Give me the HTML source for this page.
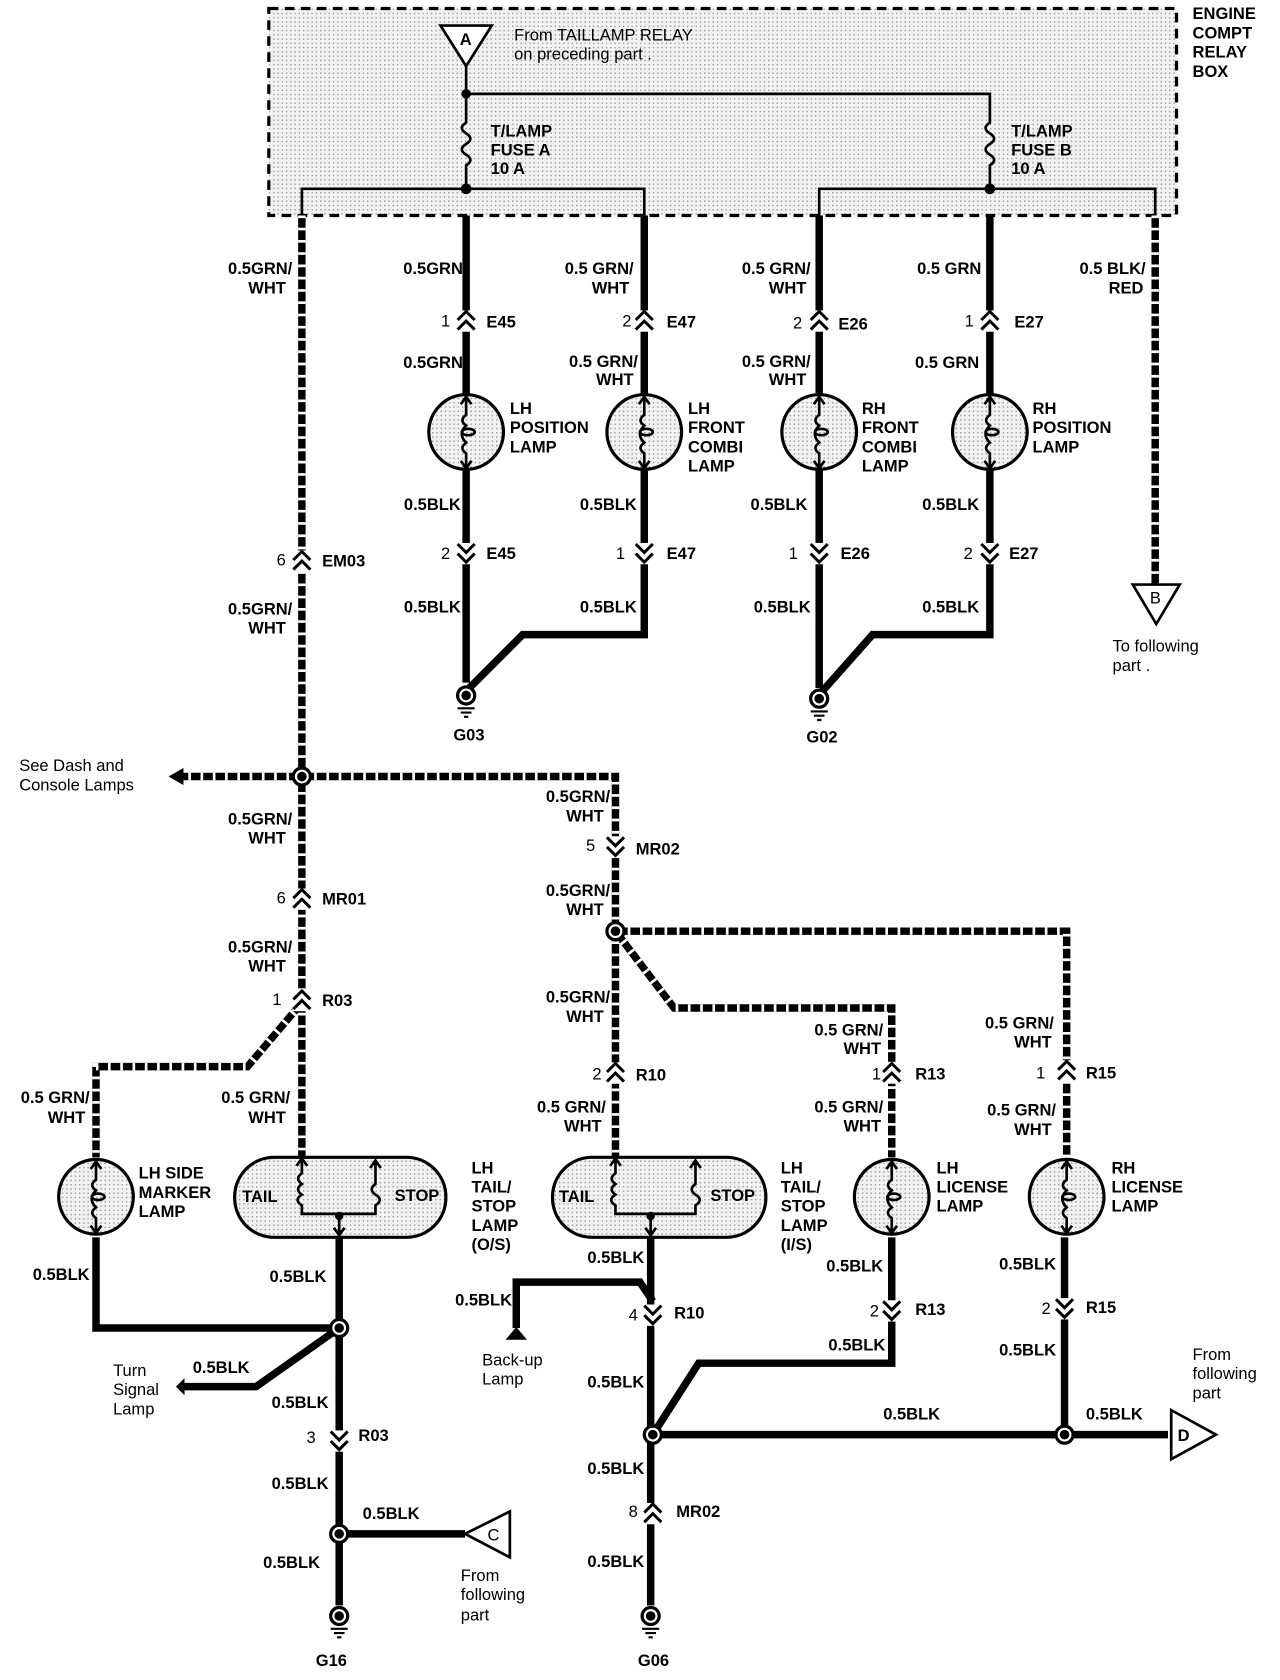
<!DOCTYPE html>
<html><head><meta charset="utf-8"><style>
html,body{margin:0;padding:0;background:#fff;}
svg{display:block;}
text{font-family:"Liberation Sans",Arial,sans-serif;font-size:15.5px;font-weight:bold;fill:#000;}
.n{font-weight:normal;}
.e{text-anchor:end;}
.w{fill:none;stroke:#000;stroke-width:7;}
.hb{fill:none;stroke:#000;stroke-width:7;}
.hw{fill:none;stroke:#fff;stroke-width:7;stroke-dasharray:2.5 9;}
.t{fill:none;stroke:#000;stroke-width:2.5;}
</style></head><body>
<svg width="1280" height="1680" viewBox="0 0 1200 1575" preserveAspectRatio="none" xmlns="http://www.w3.org/2000/svg">
<defs>
<pattern id="dots" width="4" height="4" patternUnits="userSpaceOnUse"><rect width="4" height="4" fill="#f2f2f2"/><rect width="1.3" height="1.3" fill="#999"/></pattern>
<g id="up"><rect x="-9" y="-9" width="18" height="20" fill="#fff"/><path d="M-8,0 L0,-8 L8,0 M-8,9 L0,1 L8,9" fill="none" stroke="#000" stroke-width="2.8"/></g>
<g id="dn"><rect x="-9" y="-9" width="18" height="20" fill="#fff"/><path d="M-8,-8 L0,0 L8,-8 M-8,1 L0,9 L8,1" fill="none" stroke="#000" stroke-width="2.8"/></g>
<g id="lamp"><circle r="35" fill="url(#dots)" stroke="#000" stroke-width="3"/><path d="M0,-34 V-16 q-7,5 0,10 q-8,8 0,16 q-7,5 0,10 V34 M-5,-26 L0,-33 L5,-26 M-5,27 L0,34 L5,27" fill="none" stroke="#000" stroke-width="2.5"/><ellipse cx="2" cy="0" rx="6" ry="3" fill="none" stroke="#000" stroke-width="2.5"/></g>
<g id="node"><circle r="8" fill="#fff" stroke="#000" stroke-width="3"/><circle r="4.5" fill="#000"/></g>
<g id="gnd"><circle r="8" fill="#fff" stroke="#000" stroke-width="3"/><circle r="4.5" fill="#000"/><path d="M-8,12 H8 M-5,16 H5 M-2,20 H2" stroke="#000" stroke-width="2"/></g>
</defs>

<!-- relay box -->
<rect x="252" y="8" width="851" height="194" fill="url(#dots)" stroke="#000" stroke-width="3" stroke-dasharray="9 6"/>
<text x="1118" y="18">ENGINE</text><text x="1118" y="36">COMPT</text><text x="1118" y="54">RELAY</text><text x="1118" y="72">BOX</text>
<path d="M413,24 L461,24 L437,62 Z" fill="#fff" stroke="#000" stroke-width="2.5"/>
<text x="431" y="42">A</text>
<text x="482" y="38" class="n">From TAILLAMP RELAY</text>
<text x="482" y="56" class="n">on preceding part .</text>
<path class="t" d="M437,62 V115 q-8,5 0,10 q8,5 0,10 q-8,5 0,10 q8,5 0,10 V177 M437,88 H928 V115 q-8,5 0,10 q8,5 0,10 q-8,5 0,10 q8,5 0,10 V177"/>
<circle cx="437" cy="88" r="4.5"/><circle cx="437" cy="177" r="5"/><circle cx="928" cy="177" r="5"/>
<text x="460" y="128">T/LAMP</text><text x="460" y="146">FUSE A</text><text x="460" y="163">10 A</text>
<text x="948" y="128">T/LAMP</text><text x="948" y="146">FUSE B</text><text x="948" y="163">10 A</text>
<path class="t" d="M283,202 V177 H604 V202 M768,202 V177 H1083 V202"/>

<!-- hatched wires -->
<g>
<path class="hb" d="M283,202 V1085"/>
<path class="hb" d="M1083,202 V550"/>
<path class="hb" d="M165,728 H283"/>
<path class="hb" d="M283,728 H577 V1085"/>
<path class="hb" d="M577,873 H1000 V1085"/>
<path class="hb" d="M577,873 L632,945 H836 V1085"/>
<path class="hb" d="M283,940 L232,1000 H90 V1085"/>
<path class="hw" d="M283,202 V1085"/>
<path class="hw" d="M1083,202 V550"/>
<path class="hw" d="M165,728 H283"/>
<path class="hw" d="M283,728 H577 V1085"/>
<path class="hw" d="M577,873 H1000 V1085"/>
<path class="hw" d="M577,873 L632,945 H836 V1085"/>
<path class="hw" d="M283,940 L232,1000 H90 V1085"/>
</g>
<path d="M158,728 L172,720 L172,736 Z"/>
<text x="18" y="723" class="n">See Dash and</text><text x="18" y="741" class="n">Console Lamps</text>

<!-- solid wires top -->
<path class="w" d="M437,202 V640 M604,202 V595 H490 L440,645 M768,202 V645 M928,202 V595 H818 L771,648"/>

<!-- lamps top -->
<use href="#lamp" x="437" y="405"/><use href="#lamp" x="604" y="405"/><use href="#lamp" x="768" y="405"/><use href="#lamp" x="928" y="405"/>
<text x="478" y="388">LH</text><text x="478" y="406">POSITION</text><text x="478" y="424">LAMP</text>
<text x="645" y="388">LH</text><text x="645" y="406">FRONT</text><text x="645" y="424">COMBI</text><text x="645" y="442">LAMP</text>
<text x="808" y="388">RH</text><text x="808" y="406">FRONT</text><text x="808" y="424">COMBI</text><text x="808" y="442">LAMP</text>
<text x="968" y="388">RH</text><text x="968" y="406">POSITION</text><text x="968" y="424">LAMP</text>

<!-- connectors top -->
<use href="#up" x="437" y="300"/><use href="#up" x="604" y="300"/><use href="#up" x="768" y="300"/><use href="#up" x="928" y="300"/>
<use href="#dn" x="437" y="518"/><use href="#dn" x="604" y="518"/><use href="#dn" x="768" y="518"/><use href="#dn" x="928" y="518"/>
<use href="#up" x="283" y="525"/>
<text x="422" y="306" class="e n">1</text><text x="456" y="307">E45</text>
<text x="592" y="306" class="e n">2</text><text x="625" y="307">E47</text>
<text x="752" y="308" class="e n">2</text><text x="786" y="309">E26</text>
<text x="913" y="306" class="e n">1</text><text x="951" y="307">E27</text>
<text x="422" y="524" class="e n">2</text><text x="456" y="524">E45</text>
<text x="586" y="524" class="e n">1</text><text x="625" y="524">E47</text>
<text x="748" y="524" class="e n">1</text><text x="788" y="524">E26</text>
<text x="912" y="524" class="e n">2</text><text x="946" y="524">E27</text>
<text x="268" y="530" class="e n">6</text><text x="302" y="531">EM03</text>

<!-- top wire labels -->
<text x="274" y="257" class="e">0.5GRN/</text><text x="268" y="275" class="e">WHT</text>
<text x="434" y="257" class="e">0.5GRN</text>
<text x="594" y="257" class="e">0.5 GRN/</text><text x="590" y="275" class="e">WHT</text>
<text x="760" y="257" class="e">0.5 GRN/</text><text x="756" y="275" class="e">WHT</text>
<text x="920" y="257" class="e">0.5 GRN</text>
<text x="1074" y="257" class="e">0.5 BLK/</text><text x="1072" y="275" class="e">RED</text>
<text x="434" y="345" class="e">0.5GRN</text>
<text x="598" y="344" class="e">0.5 GRN/</text><text x="594" y="361" class="e">WHT</text>
<text x="760" y="344" class="e">0.5 GRN/</text><text x="756" y="361" class="e">WHT</text>
<text x="918" y="345" class="e">0.5 GRN</text>
<text x="432" y="478" class="e">0.5BLK</text><text x="597" y="478" class="e">0.5BLK</text><text x="757" y="478" class="e">0.5BLK</text><text x="918" y="478" class="e">0.5BLK</text>
<text x="432" y="574" class="e">0.5BLK</text><text x="597" y="574" class="e">0.5BLK</text><text x="760" y="574" class="e">0.5BLK</text><text x="918" y="574" class="e">0.5BLK</text>
<text x="274" y="576" class="e">0.5GRN/</text><text x="268" y="594" class="e">WHT</text>
<use href="#gnd" x="437" y="652"/><use href="#gnd" x="768" y="655"/>
<text x="425" y="694">G03</text><text x="756" y="696">G02</text>
<path d="M1062,548 L1106,548 L1084,585 Z" fill="#fff" stroke="#000" stroke-width="2.5"/>
<text x="1078" y="566" class="n">B</text>
<text x="1043" y="611" class="n">To following</text><text x="1043" y="629" class="n">part .</text>

<!-- middle -->
<use href="#node" x="283" y="728"/><use href="#node" x="577" y="873"/>
<use href="#up" x="283" y="842"/><use href="#up" x="283" y="937"/><use href="#dn" x="577" y="793"/><use href="#up" x="577" y="1005"/>
<use href="#up" x="836" y="1005"/><use href="#up" x="1000" y="1003"/>
<text x="268" y="847" class="e n">6</text><text x="302" y="848">MR01</text>
<text x="264" y="942" class="e n">1</text><text x="302" y="943">R03</text>
<text x="558" y="798" class="e n">5</text><text x="596" y="801">MR02</text>
<text x="564" y="1012" class="e n">2</text><text x="596" y="1013">R10</text>
<text x="826" y="1012" class="e n">1</text><text x="858" y="1012">R13</text>
<text x="980" y="1011" class="e n">1</text><text x="1018" y="1011">R15</text>
<text x="274" y="773" class="e">0.5GRN/</text><text x="268" y="791" class="e">WHT</text>
<text x="274" y="893" class="e">0.5GRN/</text><text x="268" y="911" class="e">WHT</text>
<text x="572" y="752" class="e">0.5GRN/</text><text x="566" y="770" class="e">WHT</text>
<text x="572" y="840" class="e">0.5GRN/</text><text x="566" y="858" class="e">WHT</text>
<text x="572" y="940" class="e">0.5GRN/</text><text x="566" y="958" class="e">WHT</text>
<text x="828" y="971" class="e">0.5 GRN/</text><text x="826" y="988" class="e">WHT</text>
<text x="988" y="964" class="e">0.5 GRN/</text><text x="986" y="982" class="e">WHT</text>
<text x="84" y="1034" class="e">0.5 GRN/</text><text x="80" y="1053" class="e">WHT</text>
<text x="272" y="1034" class="e">0.5 GRN/</text><text x="268" y="1053" class="e">WHT</text>
<text x="568" y="1043" class="e">0.5 GRN/</text><text x="564" y="1061" class="e">WHT</text>
<text x="828" y="1043" class="e">0.5 GRN/</text><text x="826" y="1061" class="e">WHT</text>
<text x="990" y="1046" class="e">0.5 GRN/</text><text x="986" y="1064" class="e">WHT</text>

<!-- bottom solid wires -->
<path class="w" d="M90,1160 V1245 H318 M318,1160 V1505 M318,1245 L240,1300 H172 M318,1438 H436 M610,1160 V1505 M484,1245 V1202 H600 L612,1220 M612,1345 L655,1278 H836 V1160 M612,1345 H1095 M998,1345 V1160"/>
<path d="M165,1300 L173,1292 L173,1308 Z"/>
<path d="M474,1256 L484,1244 L494,1256 Z"/>

<!-- lamps bottom -->
<use href="#lamp" x="90" y="1122"/><use href="#lamp" x="836" y="1122"/><use href="#lamp" x="1000" y="1122"/>
<text x="130" y="1105">LH SIDE</text><text x="130" y="1123">MARKER</text><text x="130" y="1141">LAMP</text>
<text x="878" y="1100">LH</text><text x="878" y="1118">LICENSE</text><text x="878" y="1136">LAMP</text>
<text x="1042" y="1100">RH</text><text x="1042" y="1118">LICENSE</text><text x="1042" y="1136">LAMP</text>
<!-- tail/stop pills -->
<g>
<rect x="220" y="1085" width="198" height="75" rx="37" fill="url(#dots)" stroke="#000" stroke-width="3"/>
<path class="t" d="M283,1085 V1100 q-7,5 0,10 q-7,5 0,10 q-8,5 0,10 V1138 H352 V1130 q8,-5 0,-10 q-7,-5 0,-10 V1090 M278,1093 L283,1086 L288,1093 M347,1095 L352,1088 L357,1095 M318,1138 V1158 M313,1151 L318,1158 L323,1151"/>
<circle cx="318" cy="1140" r="4"/>
<text x="227" y="1127">TAIL</text><text x="370" y="1126">STOP</text>
<text x="442" y="1100">LH</text><text x="442" y="1118">TAIL/</text><text x="442" y="1136">STOP</text><text x="442" y="1154">LAMP</text><text x="442" y="1172">(O/S)</text>
<rect x="518" y="1085" width="200" height="75" rx="37" fill="url(#dots)" stroke="#000" stroke-width="3"/>
<path class="t" d="M577,1085 V1100 q-7,5 0,10 q-7,5 0,10 q-8,5 0,10 V1138 H652 V1130 q8,-5 0,-10 q-7,-5 0,-10 V1090 M572,1093 L577,1086 L582,1093 M647,1095 L652,1088 L657,1095 M610,1138 V1158 M605,1151 L610,1158 L615,1151"/>
<circle cx="610" cy="1140" r="4"/>
<text x="524" y="1127">TAIL</text><text x="666" y="1126">STOP</text>
<text x="732" y="1100">LH</text><text x="732" y="1118">TAIL/</text><text x="732" y="1136">STOP</text><text x="732" y="1154">LAMP</text><text x="732" y="1172">(I/S)</text>
</g>

<!-- bottom connectors -->
<use href="#dn" x="318" y="1350"/><use href="#dn" x="612" y="1232"/><use href="#dn" x="836" y="1228"/><use href="#dn" x="998" y="1226"/><use href="#up" x="612" y="1418"/>
<text x="296" y="1353" class="e n">3</text><text x="336" y="1351">R03</text>
<text x="598" y="1238" class="e n">4</text><text x="632" y="1236">R10</text>
<text x="824" y="1234" class="e n">2</text><text x="858" y="1233">R13</text>
<text x="985" y="1232" class="e n">2</text><text x="1018" y="1231">R15</text>
<text x="598" y="1422" class="e n">8</text><text x="634" y="1422">MR02</text>

<!-- bottom labels -->
<text x="84" y="1200" class="e">0.5BLK</text>
<text x="306" y="1202" class="e">0.5BLK</text>
<text x="604" y="1184" class="e">0.5BLK</text>
<text x="480" y="1224" class="e">0.5BLK</text>
<text x="828" y="1192" class="e">0.5BLK</text>
<text x="990" y="1190" class="e">0.5BLK</text>
<text x="830" y="1266" class="e">0.5BLK</text>
<text x="990" y="1271" class="e">0.5BLK</text>
<text x="234" y="1287" class="e">0.5BLK</text>
<text x="308" y="1320" class="e">0.5BLK</text>
<text x="604" y="1301" class="e">0.5BLK</text>
<text x="828" y="1331">0.5BLK</text>
<text x="1018" y="1331">0.5BLK</text>
<text x="308" y="1396" class="e">0.5BLK</text>
<text x="340" y="1424">0.5BLK</text>
<text x="300" y="1470" class="e">0.5BLK</text>
<text x="604" y="1382" class="e">0.5BLK</text>
<text x="604" y="1469" class="e">0.5BLK</text>
<text x="106" y="1290" class="n">Turn</text><text x="106" y="1308" class="n">Signal</text><text x="106" y="1326" class="n">Lamp</text>
<text x="452" y="1280" class="n">Back-up</text><text x="452" y="1298" class="n">Lamp</text>
<text x="1118" y="1275" class="n">From</text><text x="1118" y="1293" class="n">following</text><text x="1118" y="1311" class="n">part</text>
<text x="432" y="1482" class="n">From</text><text x="432" y="1500" class="n">following</text><text x="432" y="1519" class="n">part</text>
<path d="M436,1438 L478,1417 L478,1460 Z" fill="#fff" stroke="#000" stroke-width="2.5"/>
<text x="457" y="1444" class="n">C</text>
<path d="M1098,1322 L1140,1345 L1098,1368 Z" fill="#fff" stroke="#000" stroke-width="2.5"/>
<text x="1104" y="1351">D</text>

<use href="#node" x="318" y="1245"/><use href="#node" x="318" y="1438"/><use href="#node" x="612" y="1345"/><use href="#node" x="998" y="1345"/>
<use href="#gnd" x="318" y="1515"/><use href="#gnd" x="610" y="1515"/>
<text x="296" y="1562">G16</text><text x="598" y="1562">G06</text>
</svg>
</body></html>
